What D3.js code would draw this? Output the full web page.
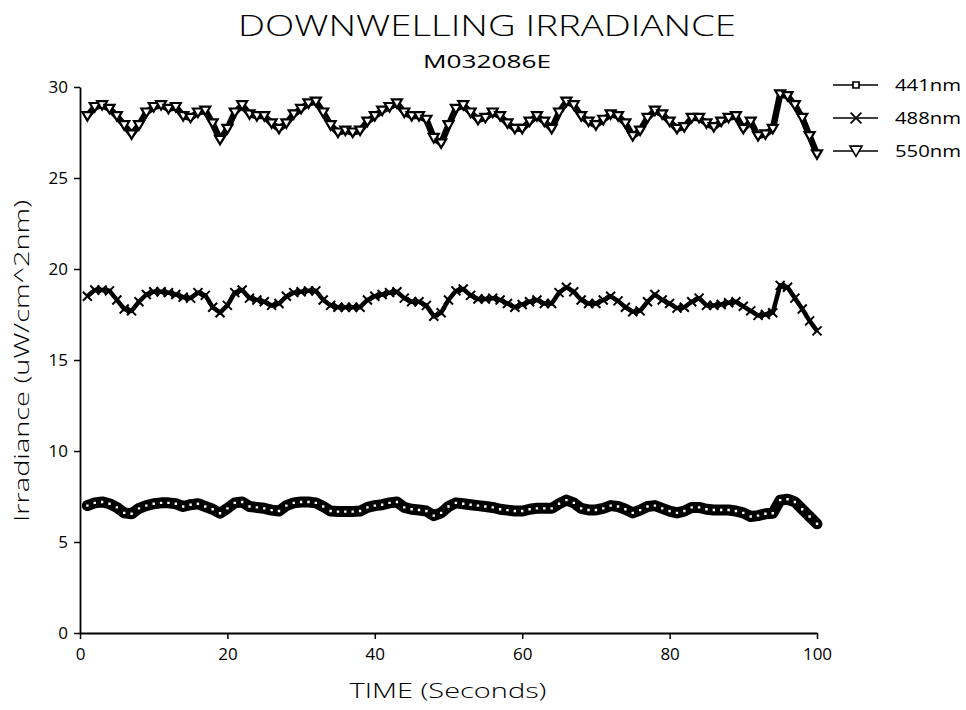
<!DOCTYPE html>
<html>
<head>
<meta charset="utf-8">
<script src="https://cdn.jsdelivr.net/npm/d3@7"></script>
<style>
body{margin:0;background:#fff}
text{font-family:"Open Sans","Liberation Sans",Arial,sans-serif;font-weight:300;fill:#000}
</style>
</head>
<body>
<svg id="chart"></svg>
<script>
//time of each sample, in seconds
var seconds = d3.range(1, 101)

//irradiance, one value per second
var irr441 = [7.0,7.15,7.2,7.1,6.9,6.6,6.55,6.85,7.0,7.1,
              7.15,7.15,7.1,6.95,7.05,7.1,6.95,6.8,6.58,6.85,
              7.15,7.2,6.95,6.9,6.85,6.75,6.7,7.0,7.15,7.2,
              7.2,7.15,6.95,6.7,6.67,6.67,6.67,6.7,6.9,7.0,
              7.05,7.15,7.2,6.9,6.8,6.76,6.7,6.45,6.6,6.95,
              7.15,7.1,7.05,7.0,6.95,6.9,6.8,6.75,6.7,6.7,
              6.8,6.85,6.85,6.85,7.1,7.3,7.15,6.85,6.76,6.76,
              6.85,7.0,6.95,6.8,6.6,6.75,6.95,7.0,6.85,6.7,
              6.6,6.7,6.9,6.9,6.8,6.76,6.76,6.76,6.7,6.6,
              6.4,6.45,6.55,6.58,7.3,7.35,7.2,6.8,6.4,6.0]

var irr488 = [18.5,18.85,18.85,18.8,18.3,17.8,17.7,18.2,18.6,18.75,
              18.75,18.7,18.6,18.45,18.4,18.7,18.55,17.9,17.6,18.0,
              18.7,18.85,18.4,18.3,18.2,18.0,18.1,18.5,18.7,18.75,
              18.8,18.8,18.3,18.0,17.9,17.9,17.9,17.9,18.3,18.5,
              18.6,18.7,18.75,18.4,18.2,18.2,18.0,17.4,17.6,18.3,
              18.8,18.9,18.55,18.35,18.35,18.4,18.3,18.1,17.9,18.05,
              18.2,18.3,18.1,18.1,18.7,19.0,18.75,18.3,18.1,18.1,
              18.3,18.5,18.25,17.9,17.65,17.7,18.2,18.6,18.3,18.1,
              17.85,17.9,18.2,18.4,18.0,18.0,18.05,18.15,18.2,17.95,
              17.7,17.45,17.5,17.6,19.1,19.0,18.4,17.8,17.15,16.6]

var irr550 = [28.4,28.9,29.0,28.8,28.4,27.9,27.4,27.9,28.6,28.9,
              29.0,28.8,28.9,28.4,28.3,28.6,28.7,28.0,27.1,27.7,
              28.6,29.0,28.5,28.4,28.4,28.0,27.7,28.0,28.5,28.8,
              29.1,29.2,28.6,27.9,27.5,27.6,27.5,27.6,28.1,28.4,
              28.7,28.9,29.1,28.6,28.4,28.4,28.2,27.2,26.9,27.9,
              28.8,29.0,28.6,28.2,28.3,28.6,28.4,28.0,27.7,27.7,
              28.1,28.4,28.1,27.7,28.6,29.2,29.0,28.4,28.1,27.9,
              28.2,28.5,28.4,28.0,27.3,27.6,28.3,28.7,28.5,28.1,
              27.7,27.8,28.3,28.3,28.0,27.8,28.1,28.3,28.4,27.7,
              28.1,27.3,27.4,27.7,29.6,29.5,29.0,28.3,27.3,26.3]

var seriesNames = ["441nm","488nm","550nm"]
var xTicks = [0,20,40,60,80,100]
var yTicks = [0,5,10,15,20,25,30]

//screen and plot area
var screen = {width:966,height:710}
var margins = {left:80,right:149,top:87,bottom:77}
var graph =
    {
        width:screen.width-margins.left-margins.right,
        height:screen.height-margins.top-margins.bottom
    }

var svg = d3.select("#chart")
    .attr("width",screen.width)
    .attr("height",screen.height)

var xScale = d3.scaleLinear()
    .domain([0,100])
    .range([margins.left,margins.left+graph.width])

var yScale = d3.scaleLinear()
    .domain([0,30])
    .range([margins.top+graph.height,margins.top])

var rows = function(values)
{
    return seconds.map(function(s,i){ return {t:s, v:values[i]} })
}

var line = d3.line()
    .x(function(d){ return xScale(d.t) })
    .y(function(d){ return yScale(d.v) })

var place = function(d)
{
    return "translate("+xScale(d.t)+","+yScale(d.v)+")"
}

//marker shapes, centred on 0,0
var squarePath = "M-2.5,-2.5H2.5V2.5H-2.5Z"
var trianglePath = "M-5,-4H5L0,4.5Z"
var crossPath = "M-4.5,-4.5L4.5,4.5M-4.5,4.5L4.5,-4.5"

//441nm - heavy band of squares
var g441 = svg.append("g")
g441.append("path")
    .datum(rows(irr441))
    .attr("d",line)
    .attr("fill","none")
    .attr("stroke","black")
    .attr("stroke-width",11)
    .attr("stroke-linejoin","round")
    .attr("stroke-linecap","round")
g441.selectAll("path.mk")
    .data(rows(irr441))
    .enter()
    .append("path")
    .classed("mk",true)
    .attr("d",squarePath)
    .attr("transform",place)
    .attr("fill","white")
    .attr("stroke","black")
    .attr("stroke-width",2.6)

//488nm - crosses
var g488 = svg.append("g")
g488.append("path")
    .datum(rows(irr488))
    .attr("d",line)
    .attr("fill","none")
    .attr("stroke","black")
    .attr("stroke-width",4.5)
    .attr("stroke-linejoin","round")
g488.selectAll("path.mk")
    .data(rows(irr488))
    .enter()
    .append("path")
    .classed("mk",true)
    .attr("d",crossPath)
    .attr("transform",place)
    .attr("fill","none")
    .attr("stroke","black")
    .attr("stroke-width",2)

//550nm - down triangles
var g550 = svg.append("g")
g550.append("path")
    .datum(rows(irr550))
    .attr("d",line)
    .attr("fill","none")
    .attr("stroke","black")
    .attr("stroke-width",6.5)
    .attr("stroke-linejoin","round")
g550.selectAll("path.mk")
    .data(rows(irr550))
    .enter()
    .append("path")
    .classed("mk",true)
    .attr("d",trianglePath)
    .attr("transform",place)
    .attr("fill","white")
    .attr("stroke","black")
    .attr("stroke-width",2.2)

//axes
var xAxis = d3.axisBottom(xScale)
    .tickValues(xTicks)
    .tickSize(6)
    .tickSizeOuter(0)
    .tickPadding(9)
svg.append("g")
   .attr("transform","translate(0,"+(margins.top+graph.height)+")")
   .call(xAxis)

var yAxis = d3.axisLeft(yScale)
    .tickValues(yTicks)
    .tickSize(6)
    .tickSizeOuter(0)
    .tickPadding(6)
svg.append("g")
   .attr("transform","translate("+margins.left+",0)")
   .call(yAxis)

svg.selectAll(".domain").attr("stroke","black").attr("stroke-width",1.8)
svg.selectAll(".tick line").attr("stroke","black").attr("stroke-width",1.5)
svg.selectAll(".tick text")
   .style("font-family","'Open Sans','Liberation Sans',Arial,sans-serif")
   .style("font-size","17px")
   .style("font-weight","400")
   .style("fill","black")

//labels
var labels = svg.append("g")

labels.append("text")
      .text("DOWNWELLING IRRADIANCE")
      .attr("text-anchor","middle")
      .attr("x",487)
      .attr("y",36)
      .attr("textLength",498)
      .attr("lengthAdjust","spacingAndGlyphs")
      .style("font-size","29px")

labels.append("text")
      .text("M032086E")
      .attr("text-anchor","middle")
      .attr("x",487)
      .attr("y",68)
      .attr("textLength",128)
      .attr("lengthAdjust","spacingAndGlyphs")
      .style("font-size","18px")
      .style("font-weight","400")

labels.append("text")
      .text("TIME (Seconds)")
      .attr("text-anchor","middle")
      .attr("x",448)
      .attr("y",698)
      .attr("textLength",197)
      .attr("lengthAdjust","spacingAndGlyphs")
      .style("font-size","21px")

labels.append("g")
      .attr("transform","translate(29,361)")
      .append("text")
      .text("Irradiance (uW/cm^2nm)")
      .attr("text-anchor","middle")
      .attr("transform","rotate(-90)")
      .attr("textLength",322)
      .attr("lengthAdjust","spacingAndGlyphs")
      .style("font-size","21px")

//legend
var legendMarks = [squarePath,crossPath,trianglePath]
var legend = svg.append("g")
    .selectAll("g")
    .data(seriesNames)
    .enter()
    .append("g")
    .attr("transform",function(d,i){ return "translate(833,"+(85+i*33)+")" })

legend.append("line")
      .attr("x1",0)
      .attr("x2",45)
      .attr("stroke","black")
      .attr("stroke-width",1.3)
legend.append("path")
      .attr("d",function(d,i){ return legendMarks[i] })
      .attr("transform","translate(23,0) scale(1.2)")
      .attr("fill",function(d,i){ return i==1 ? "none" : "white" })
      .attr("stroke","black")
      .attr("stroke-width",1.4)
legend.append("text")
      .text(function(d){ return d })
      .attr("x",62)
      .attr("y",6)
      .attr("textLength",66)
      .attr("lengthAdjust","spacingAndGlyphs")
      .style("font-size","17px")
      .style("font-weight","400")
</script>
</body>
</html>
